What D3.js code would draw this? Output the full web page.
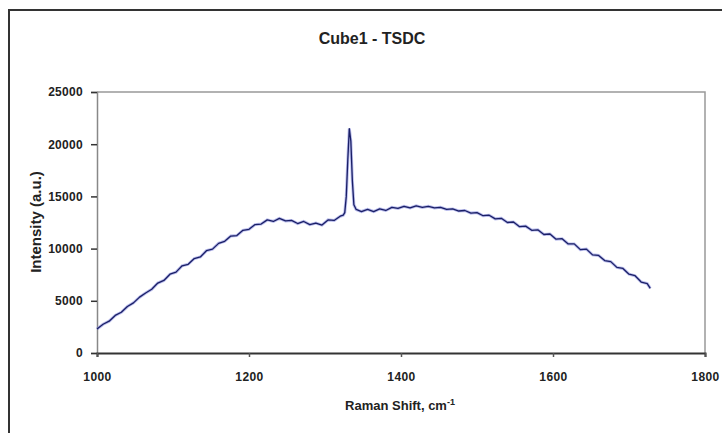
<!DOCTYPE html>
<html>
<head>
<meta charset="utf-8">
<script src="https://cdnjs.cloudflare.com/ajax/libs/d3/7.8.5/d3.min.js"></script>
<style>
  body { margin: 0; background: #fff; }
  text { font-family: "Liberation Sans", Arial, sans-serif; fill: #222; }
</style>
</head>
<body>
<div id="svg"></div>
<script>

// Raman shift (cm-1) and intensity (a.u.)
var shift = [1000,1008,1016,1024,1032,1040,1048,1056,1064,1072,1080,1088,1096,1104,1112,1120,
  1128,1136,1144,1152,1160,1168,1176,1184,1192,1200,1208,1216,1224,1232,1240,1248,1256,1264,
  1272,1280,1288,1296,1304,1312,1320,
  1324,1326,1328,1330,1332,1334,1336,1338,1341,
  1348,1356,1364,1372,1380,1388,1396,1404,1412,1420,1428,1436,1444,1452,1460,1468,1476,1484,
  1492,1500,1508,1516,1524,1532,1540,1548,1556,1564,1572,1580,1588,1596,1604,1612,1620,1628,
  1636,1644,1652,1660,1668,1676,1684,1692,1700,1708,1716,1724,1728];
var intensity = [2300,2750,3050,3600,3900,4450,4800,5350,5750,6100,6700,6950,7550,7750,8350,8500,
  9050,9200,9800,9950,10500,10700,11200,11250,11750,11850,12300,12350,12750,12600,12900,12650,
  12700,12400,12600,12300,12450,12250,12750,12700,13100,
  13200,13450,15000,18500,21500,20300,16500,14200,13750,
  13550,13750,13550,13800,13650,13950,13850,14050,13900,14100,13950,14050,13900,13950,13750,13800,
  13600,13650,13400,13450,13150,13200,12850,12900,12500,12550,12100,12150,11750,11800,11350,11400,
  10900,10950,10450,10450,9900,9950,9400,9350,8850,8750,8200,8100,7550,7400,6800,6650,6200];

var xTicks = [1000, 1200, 1400, 1600, 1800];
var yTicks = [0, 5000, 10000, 15000, 20000, 25000];

var W = 722, H = 433;
var margin = {top: 92, right: 17, bottom: 80, left: 97};

var svg = d3.select("#svg").append("svg")
    .attr("width", W)
    .attr("height", H);

// outer chart border
svg.append("rect")
    .attr("x", 9).attr("y", 10)
    .attr("width", 740).attr("height", 460)
    .attr("fill", "none")
    .attr("stroke", "#333")
    .attr("stroke-width", 2);

var x = d3.scaleLinear().domain([1000, 1800]).range([margin.left, W - margin.right]);
var y = d3.scaleLinear().domain([0, 25000]).range([H - margin.bottom, margin.top]);

// plot frame (top + right)
svg.append("path")
    .attr("d", "M" + x(1000) + "," + y(25000) + "H" + x(1800) + "V" + y(0))
    .attr("fill", "none")
    .attr("stroke", "#999")
    .attr("stroke-width", 1.5);

var yAxis = svg.append("g")
    .attr("transform", "translate(" + x(1000) + ",0)")
    .call(d3.axisLeft(y).tickValues(yTicks).tickSize(6).tickPadding(8).tickFormat(d3.format("d")));
yAxis.select(".domain").attr("stroke", "#888").attr("stroke-width", 1.5);
yAxis.selectAll(".tick line").attr("stroke", "#333").attr("stroke-width", 1.5);
yAxis.selectAll(".tick text")
    .style("font-size", "12px")
    .style("font-weight", "bold")
    .style("letter-spacing", "0.3px");

var xAxis = svg.append("g")
    .attr("transform", "translate(0," + y(0) + ")")
    .call(d3.axisBottom(x).tickValues(xTicks).tickSize(4).tickFormat(d3.format("d")));
xAxis.select(".domain").attr("stroke", "#333").attr("stroke-width", 2);
xAxis.selectAll(".tick line").attr("stroke", "#555").attr("stroke-width", 1.5);
xAxis.selectAll(".tick text")
    .attr("y", 19)
    .style("font-size", "12px")
    .style("font-weight", "bold")
    .style("letter-spacing", "0.4px");

var line = d3.line()
    .x(function(d, i) { return x(shift[i]); })
    .y(function(d) { return y(d); });

// soft halo then the dark line on top
svg.append("path")
    .datum(intensity)
    .attr("d", line)
    .attr("fill", "none")
    .attr("stroke", "#8a90e0")
    .attr("stroke-width", 3)
    .attr("stroke-opacity", 0.6);
svg.append("path")
    .datum(intensity)
    .attr("d", line)
    .attr("fill", "none")
    .attr("stroke", "#1a1f66")
    .attr("stroke-width", 1.3)
    .attr("stroke-linejoin", "round");

svg.append("text")
    .attr("x", 372).attr("y", 44)
    .attr("text-anchor", "middle")
    .style("font-size", "16px")
    .style("font-weight", "bold")
    .text("Cube1 - TSDC");

var xl = svg.append("text")
    .attr("x", 400).attr("y", 410)
    .attr("text-anchor", "middle")
    .style("font-size", "13px")
    .style("font-weight", "bold");
xl.append("tspan").text("Raman Shift, cm");
xl.append("tspan").attr("dy", -5).style("font-size", "9px").text("-1");

svg.append("text")
    .attr("transform", "translate(41,222) rotate(-90)")
    .attr("text-anchor", "middle")
    .style("font-size", "15px")
    .style("font-weight", "bold")
    .text("Intensity (a.u.)");

</script>
</body>
</html>
